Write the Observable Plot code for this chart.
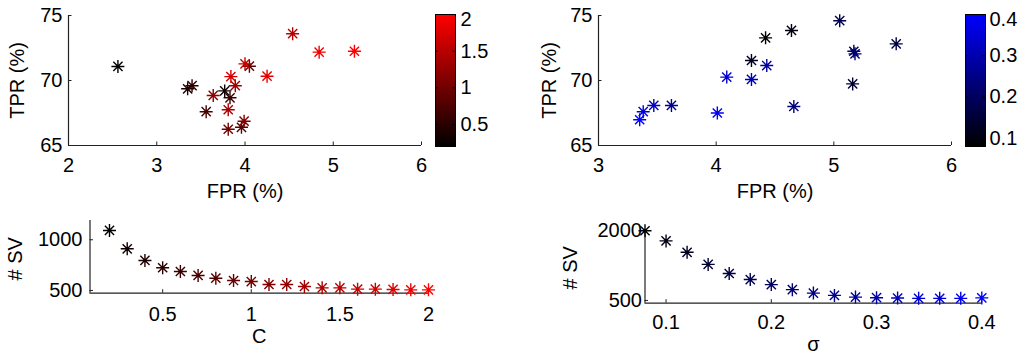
<!DOCTYPE html>
<html><head><meta charset="utf-8">
<script src="https://cdn.jsdelivr.net/npm/d3@7"></script>
<script src="https://cdn.jsdelivr.net/npm/@observablehq/plot@0.6"></script>
<style>
html,body{margin:0;padding:0;background:#fff;}
#chart{position:relative;width:1024px;height:355px;overflow:hidden;}
#chart svg{position:absolute;overflow:visible;background:none;}
</style></head><body><div id="chart"></div>
<script>
// ---- data ----
const cValues = [0.2,0.3,0.4,0.5,0.6,0.7,0.8,0.9,1.0,1.1,1.2,1.3,1.4,1.5,1.6,1.7,1.8,1.9,2.0];
const fprC = [2.56,3.77,3.35,3.40,3.83,3.56,3.96,4.05,3.81,3.99,3.64,3.89,3.81,4.54,4.00,3.84,4.25,4.84,5.24];
const tprC = [71.08,69.2,69.36,69.6,68.67,67.6,66.4,71.1,66.25,66.87,68.85,69.6,67.75,73.6,71.28,70.3,70.33,72.18,72.25];
const svC  = [1092,911,796,724,687,648,621,598,588,559,559,539,526,526,513,513,510,506,506];

const sigmaValues = [0.08,0.10,0.12,0.14,0.16,0.18,0.20,0.22,0.24,0.26,0.28,0.30,0.32,0.34,0.36,0.38,0.40];
const fprS = [4.42,4.64,4.30,5.16,5.53,5.05,5.17,5.18,4.66,3.62,4.43,4.30,3.47,4.09,3.38,4.01,3.35];
const tprS = [73.28,73.85,71.54,69.74,72.82,74.6,72.25,72.05,68.0,68.08,71.15,70.08,68.08,70.26,67.6,67.5,66.98];
const svS  = [1995,1777,1532,1273,1078,948,840,732,658,608,572,559,551,545,545,545,555];

const fprTicksC = [2,3,4,5,6];
const fprTicksS = [3,4,5,6];
const tprTicks = [65,70,75];
const cTicks = [0.5,1,1.5,2];
const sigmaTicks = [0.1,0.2,0.3,0.4];
const svTicksC = [500,1000];
const svTicksS = [500,2000];
const cbarTicksC = [0.5,1,1.5,2];
const cbarTicksS = [0.1,0.2,0.3,0.4];

// ---- helpers ----
const FONT = "'Liberation Sans', Arial, Helvetica, sans-serif";
const FS = 20;
const AXIS = "#222";
const asterisk = {
  draw(context, size) {
    const r = Math.sqrt(size / Math.PI);
    const d = r * Math.SQRT1_2;
    context.moveTo(-r, 0); context.lineTo(r, 0);
    context.moveTo(0, -r); context.lineTo(0, r);
    context.moveTo(-d, -d); context.lineTo(d, d);
    context.moveTo(-d, d); context.lineTo(d, -d);
  }
};
const redScale = {type: "linear", domain: [0.2, 2], range: ["#000000", "#ff0000"], interpolate: "rgb"};
const blueScale = {type: "linear", domain: [0.08, 0.4], range: ["#000000", "#0000ff"], interpolate: "rgb"};
const fmt = d => `${d}`;
const chart = document.getElementById("chart");

function place(svg, left, top) {
  svg.style.left = left + "px";
  svg.style.top = top + "px";
  chart.appendChild(svg);
}

function panel(o) {
  const frameW = o.width - o.ml - o.mr;
  const frameH = o.height - o.mt - o.mb;
  const rows = o.xs.map((x, i) => ({x, y: o.ys[i], c: o.cs[i]}));
  const svg = Plot.plot({
    width: o.width, height: o.height,
    marginLeft: o.ml, marginRight: o.mr, marginTop: o.mt, marginBottom: o.mb,
    style: {fontFamily: FONT, background: "none", overflow: "visible"},
    x: {domain: o.xDomain},
    y: {domain: o.yDomain},
    color: o.color,
    marks: [
      Plot.ruleX([o.xDomain[0]], {stroke: AXIS, strokeWidth: 1.2}),
      Plot.ruleY([o.yDomain[0]], {stroke: AXIS, strokeWidth: 1.2}),
      Plot.tickX(o.xTicks, {x: d => d, insetTop: frameH - 3.5, stroke: AXIS}),
      Plot.tickY(o.yTicks, {y: d => d, insetRight: frameW - 3.5, stroke: AXIS}),
      Plot.axisX({ticks: o.xTicks, tickSize: 0, tickPadding: o.xPad, fontSize: FS, tickFormat: fmt, label: null, fill: "black"}),
      Plot.axisY({ticks: o.yTicks, tickSize: 0, tickPadding: o.yPad, fontSize: FS, tickFormat: fmt, label: null, fill: "black"}),
      Plot.dot(rows, {x: "x", y: "y", stroke: "c", fill: "none", symbol: asterisk, r: 6.5, strokeWidth: 1.4}),
      Plot.text([o.yLabel], {frameAnchor: "left", dx: o.yLabelDx, dy: o.yLabelDy || 0, rotate: -90, textAnchor: "middle", lineAnchor: "middle", fontSize: FS, fill: "black", text: d => d}),
      Plot.text([o.xLabel], {frameAnchor: "bottom", dy: o.xLabelDy, textAnchor: "middle", lineAnchor: "middle", fontSize: FS, fill: "black", text: d => d})
    ]
  });
  place(svg, o.left, o.top);
}

function colorbar(o) {
  const [lo, hi] = o.color.domain;
  const n = 120;
  const step = (hi - lo) / n;
  const bands = d3.range(n).map(i => lo + i * step);
  const ticksBelow = o.ticks.filter(t => t < hi);
  const svg = Plot.plot({
    width: o.width, height: o.height,
    marginLeft: o.ml, marginRight: o.mr, marginTop: o.mt, marginBottom: o.mb,
    style: {fontFamily: FONT, background: "none", overflow: "visible"},
    x: {domain: [0, 1], axis: null},
    y: {domain: [lo, hi], axis: null},
    color: o.color,
    marks: [
      Plot.rect(bands, {x1: 0, x2: 1, y1: d => d, y2: d => Math.min(hi, d + step * 1.3), fill: d => d + step / 2, shapeRendering: "crispEdges"}),
      Plot.tickY(o.ticks, {y: d => d, insetRight: 17, stroke: "black"}),
      Plot.tickY(o.ticks, {y: d => d, insetLeft: 17, stroke: "black"}),
      Plot.frame({stroke: "black", strokeWidth: 1}),
      Plot.text(ticksBelow, {y: d => d, frameAnchor: "right", dx: o.pad, textAnchor: "start", lineAnchor: "middle", fontSize: FS, fill: "black", text: fmt}),
      Plot.text([hi], {y: d => d, frameAnchor: "right", dx: o.pad, dy: 5, textAnchor: "start", lineAnchor: "middle", fontSize: FS, fill: "black", text: fmt})
    ]
  });
  place(svg, o.left, o.top);
}

// ---- top-left: FPR/TPR colored by C ----
panel({left: 0, top: 0, width: 440, height: 205, ml: 68, mr: 19, mt: 15, mb: 60,
  xDomain: [2, 6], yDomain: [65, 75], xTicks: fprTicksC, yTicks: tprTicks,
  xs: fprC, ys: tprC, cs: cValues, color: redScale,
  xPad: 12, yPad: 6, yLabel: "TPR (%)", yLabelDx: -50.5, xLabel: "FPR (%)", xLabelDy: 46.5});
colorbar({left: 420, top: 0, width: 80, height: 205, ml: 15, mr: 45, mt: 14, mb: 59,
  color: redScale, ticks: cbarTicksC, pad: 5});

// ---- top-right: FPR/TPR colored by sigma ----
panel({left: 512, top: 0, width: 450, height: 205, ml: 86, mr: 11, mt: 15, mb: 60,
  xDomain: [3, 6], yDomain: [65, 75], xTicks: fprTicksS, yTicks: tprTicks,
  xs: fprS, ys: tprS, cs: sigmaValues, color: blueScale,
  xPad: 12, yPad: 6, yLabel: "TPR (%)", yLabelDx: -49, xLabel: "FPR (%)", xLabelDy: 46.5});
colorbar({left: 950, top: 0, width: 74, height: 205, ml: 15, mr: 39, mt: 14, mb: 59,
  color: blueScale, ticks: cbarTicksS, pad: 4});

// ---- bottom-left: #SV vs C ----
panel({left: 0, top: 205, width: 440, height: 150, ml: 89.5, mr: 12, mt: 15, mb: 62.3,
  xDomain: [0.09, 2], yDomain: [473, 1190], xTicks: cTicks, yTicks: svTicksC,
  xs: cValues, ys: svC, cs: cValues, color: redScale,
  xPad: 13.5, yPad: 7.5, yLabel: "# SV", yLabelDx: -74.5, yLabelDy: 2, xLabel: "C", xLabelDy: 43});

// ---- bottom-right: #SV vs sigma ----
panel({left: 512, top: 205, width: 490, height: 150, ml: 132.5, mr: 20.7, mt: 25, mb: 52.3,
  xDomain: [0.08, 0.4], yDomain: [441, 2000], xTicks: sigmaTicks, yTicks: svTicksS,
  xs: sigmaValues, ys: svS, cs: sigmaValues, color: blueScale,
  xPad: 12, yPad: 3, yLabel: "# SV", yLabelDx: -74.5, yLabelDy: 1, xLabel: "σ", xLabelDy: 41});
</script>
</body></html>
